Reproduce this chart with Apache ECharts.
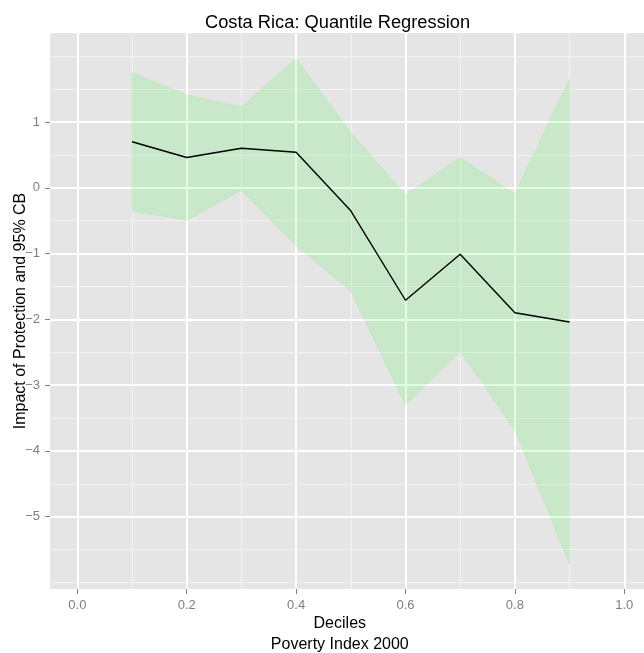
<!DOCTYPE html>
<html><head><meta charset="utf-8">
<script src="https://cdn.jsdelivr.net/npm/echarts@6/dist/echarts.min.js"></script>
<style>html,body{margin:0;padding:0;background:#fff}#chart{width:644px;height:653px}</style>
</head><body><div id="chart"></div>
<script>
const deciles = [0.1, 0.2, 0.3, 0.4, 0.5, 0.6, 0.7, 0.8, 0.9];
const impact  = [0.70, 0.46, 0.60, 0.54, -0.35, -1.71, -1.01, -1.90, -2.04];
const upperCB = [1.75, 1.41, 1.23, 1.96, 0.84, -0.11, 0.46, -0.09, 1.65];
const lowerCB = [-0.35, -0.49, -0.04, -0.88, -1.57, -3.30, -2.49, -3.68, -5.72];
const xTicks = [0, 0.2, 0.4, 0.6, 0.8, 1.0];
const xMinor = [0.1, 0.3, 0.5, 0.7, 0.9];
const yTicks = [-5, -4, -3, -2, -1, 0, 1];
const yMinor = [-6, -5.5, -4.5, -3.5, -2.5, -1.5, -0.5, 0.5, 1.5, 2];

const FONT = 'Liberation Sans, Arial, Helvetica, sans-serif';
const chart = echarts.init(document.getElementById('chart'), null, {renderer: 'canvas'});
const X_MIN = -0.05, X_MAX = 1.05, Y_MIN = -6.1, Y_MAX = 2.353;

chart.setOption({
  animation: false,
  backgroundColor: '#ffffff',
  title: {
    text: 'Costa Rica: Quantile Regression',
    left: 205, top: 14, padding: 0,
    textStyle: {fontFamily: FONT, fontSize: 18.3, fontWeight: 'normal', color: '#000'}
  },
  grid: {left: 50, top: 33, right: -7.6, bottom: 64, show: true, backgroundColor: '#e5e5e5', borderWidth: 0,
         containLabel: false, outerBoundsMode: 'none'},
  xAxis: [{
    type: 'value', min: X_MIN, max: X_MAX, position: 'bottom',
    axisLine: {show: false, onZero: false},
    axisTick: {show: true, customValues: xTicks, length: 5, lineStyle: {color: '#7f7f7f', width: 1}},
    axisLabel: {show: true, customValues: xTicks, formatter: v => v.toFixed(1), color: '#7f7f7f', fontSize: 13, fontFamily: FONT, margin: 10},
    splitLine: {show: true, lineStyle: {color: '#ffffff', width: 2}},
    name: 'Deciles\nPoverty Index 2000', nameLocation: 'middle', nameGap: 24, nameMoveOverlap: false,
    nameTextStyle: {fontFamily: FONT, fontSize: 16, color: '#000', lineHeight: 21, padding: [0, 22, 0, 0]}
  }, {
    type: 'value', min: X_MIN, max: X_MAX, position: 'bottom',
    axisLine: {show: false, onZero: false},
    axisTick: {show: false, customValues: xMinor},
    axisLabel: {show: false, customValues: xMinor},
    splitLine: {show: true, lineStyle: {color: '#f2f2f2', width: 1}}
  }],
  yAxis: [{
    type: 'value', min: Y_MIN, max: Y_MAX, position: 'left',
    axisLine: {show: false, onZero: false},
    axisTick: {show: true, customValues: yTicks, length: 5, lineStyle: {color: '#7f7f7f', width: 1}},
    axisLabel: {show: true, customValues: yTicks, formatter: v => (v < 0 ? '\u2212' : '') + Math.abs(v), color: '#7f7f7f', fontSize: 13, fontFamily: FONT, margin: 10},
    splitLine: {show: true, lineStyle: {color: '#ffffff', width: 2}},
    name: 'Impact of Protection and 95% CB', nameLocation: 'middle', nameGap: 21, nameMoveOverlap: false,
    nameTextStyle: {fontFamily: FONT, fontSize: 16, color: '#000'}
  }, {
    type: 'value', min: Y_MIN, max: Y_MAX, position: 'left',
    axisLine: {show: false, onZero: false},
    axisTick: {show: false, customValues: yMinor},
    axisLabel: {show: false, customValues: yMinor},
    splitLine: {show: true, lineStyle: {color: '#f2f2f2', width: 1}}
  }],
  series: [{
    type: 'custom', xAxisIndex: 0, yAxisIndex: 0, silent: true, z: 1,
    data: deciles.map((d, i) => [d, lowerCB[i], upperCB[i]]),
    encode: {x: 0, y: [1, 2]},
    renderItem: (params, api) => {
      if (params.dataIndex !== 0) return null;
      const pts = [];
      for (let i = 0; i < deciles.length; i++) pts.push(api.coord([deciles[i], upperCB[i]]));
      for (let i = deciles.length - 1; i >= 0; i--) pts.push(api.coord([deciles[i], lowerCB[i]]));
      return {type: 'polygon', shape: {points: pts},
        style: {fill: 'rgba(0,255,0,0.12)', stroke: 'rgba(0,230,0,0.10)', lineWidth: 1}};
    }
  }, {
    type: 'line', xAxisIndex: 0, yAxisIndex: 0, z: 3,
    data: deciles.map((d, i) => [d, impact[i]]),
    symbol: 'none', showSymbol: false,
    lineStyle: {color: '#000000', width: 1.4}
  }]
});
</script></body></html>
